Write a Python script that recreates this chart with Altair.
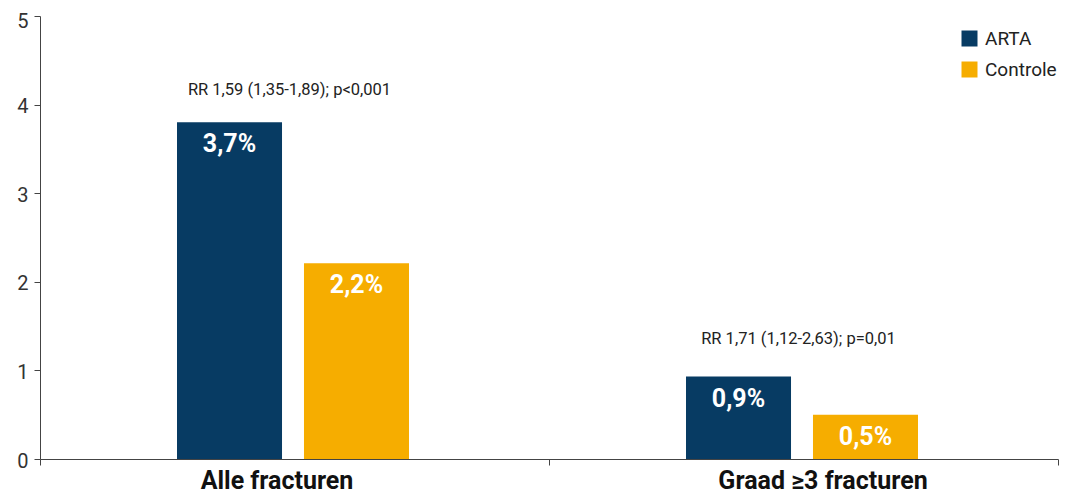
import altair as alt
import pandas as pd

groups = ["Alle fracturen", "Graad ≥3 fracturen"]
series = ["ARTA", "Controle"]
arta_values = [3.80, 0.93]
controle_values = [2.21, 0.50]
arta_labels = ["3,7%", "0,9%"]
controle_labels = ["2,2%", "0,5%"]
annotations = ["RR 1,59 (1,35-1,89); p<0,001", "RR 1,71 (1,12-2,63); p=0,01"]
annotation_y = [4.17, 1.36]
colors = ["#073b63", "#f6ad00"]

rows = []
for g, a, c, la, lc in zip(groups, arta_values, controle_values, arta_labels, controle_labels):
    rows.append({"group": g, "series": "ARTA", "value": a, "label": la})
    rows.append({"group": g, "series": "Controle", "value": c, "label": lc})
df = pd.DataFrame(rows)
ann = pd.DataFrame({"group": groups, "text": annotations, "y": annotation_y})

FONT = "Roboto"

x_enc = alt.X(
    "group:N",
    sort=groups,
    scale=alt.Scale(paddingInner=0, paddingOuter=0),
    axis=alt.Axis(
        title=None, labelAngle=0, tickBand="extent", tickSize=6, labelPadding=3,
        labelLimit=0,
        labelOffset={"condition": {"test": f"datum.value == '{groups[0]}'", "value": -18},
                     "value": 19},
        labelFont=FONT, labelFontSize=25, labelFontWeight="bold", labelColor="#111",
        domainColor="#444", tickColor="#444", grid=False,
    ),
)
xoff = alt.XOffset("series:N", sort=series,
                   scale=alt.Scale(range=[137, 369], paddingInner=0.173, paddingOuter=0))
y_enc = alt.Y(
    "value:Q",
    scale=alt.Scale(domain=[0, 5], nice=False),
    axis=alt.Axis(
        title=None, values=[0, 1, 2, 3, 4, 5], format="d", grid=False, tickSize=6,
        labelPadding=6,
        labelOffset={"condition": {"test": "datum.value == 5", "value": 5}, "value": 2},
        labelFont=FONT, labelFontSize=20, labelColor="#333",
        domainColor="#444", tickColor="#444",
    ),
)

bars = alt.Chart(df).mark_bar().encode(
    x=x_enc,
    xOffset=xoff,
    y=y_enc,
    color=alt.Color(
        "series:N",
        sort=series,
        scale=alt.Scale(domain=series, range=colors),
        legend=alt.Legend(
            title=None, orient="none", legendX=920, legendY=13, padding=0,
            symbolType="square", symbolSize=256, symbolStrokeWidth=0, symbolOpacity=1,
            labelFont=FONT, labelFontSize=19, labelColor="#222", labelOffset=6,
            rowPadding=11, labelLimit=0,
        ),
    ),
)

bar_text = alt.Chart(df).mark_text(
    font=FONT, fontSize=25, fontWeight="bold", color="white", baseline="middle", dy=22
).encode(
    x=alt.X("group:N", sort=groups),
    xOffset=alt.XOffset("series:N", sort=series),
    y="value:Q",
    text="label:N",
)

ann_text = alt.Chart(ann).mark_text(
    font=FONT, fontSize=16.5, color="#222", baseline="middle", dx=-5
).encode(
    x=alt.X("group:N", sort=groups),
    y=alt.Y("y:Q"),
    text="text:N",
)

chart = alt.layer(bars, bar_text, ann_text).properties(
    width=1018, height=443,
    autosize=alt.AutoSizeParams(type="none"),
    padding={"left": 32, "top": 8, "right": 5, "bottom": 36},
).configure_view(stroke=None)

chart.save("out.html", embed_options={"renderer": "svg", "actions": False})
